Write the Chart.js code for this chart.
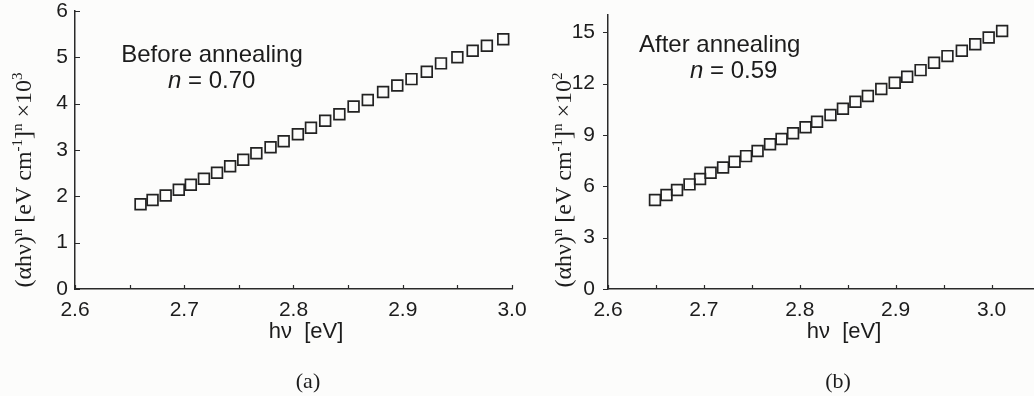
<!DOCTYPE html>
<html><head><meta charset="utf-8">
<script src="https://cdn.jsdelivr.net/npm/chart.js@4.4.0/dist/chart.umd.min.js"></script>
<style>
html,body{margin:0;padding:0;background:#fcfcfb;overflow:hidden;width:1034px;height:396px;position:relative;}
canvas{position:absolute;top:0;}
#ca{left:0}
#cb{left:540px}
</style></head><body>
<canvas id="ca" width="540" height="396"></canvas>
<canvas id="cb" width="540" height="396"></canvas>
<script>
// ---- data ----
const hvA = [2.660,2.671,2.683,2.695,2.706,2.718,2.730,2.742,2.754,2.766,2.779,2.791,2.804,2.816,2.829,2.842,2.855,2.868,2.882,2.895,2.908,2.922,2.935,2.950,2.964,2.977,2.992];
const valA = [1.83,1.92,2.02,2.14,2.25,2.38,2.51,2.65,2.79,2.93,3.06,3.19,3.34,3.48,3.63,3.77,3.94,4.08,4.25,4.39,4.53,4.69,4.87,5.00,5.14,5.25,5.39];
const hvB = [2.649,2.661,2.672,2.685,2.696,2.707,2.720,2.732,2.744,2.756,2.769,2.781,2.793,2.806,2.818,2.832,2.845,2.858,2.871,2.885,2.899,2.912,2.926,2.940,2.954,2.969,2.983,2.997,3.011];
const valB = [5.20,5.49,5.78,6.11,6.42,6.79,7.10,7.43,7.76,8.06,8.45,8.76,9.09,9.44,9.77,10.16,10.53,10.93,11.27,11.68,12.04,12.39,12.78,13.21,13.60,13.91,14.29,14.69,15.06];
const xMajorTicks = [2.6,2.7,2.8,2.9,3.0];
const xMinorTicksA = [2.65,2.75,2.85,2.95];
const xMinorTicksB = [2.65,2.75,2.85,2.95,3.05];
const yTicksA = [0,1,2,3,4,5,6];
const yTicksB = [0,3,6,9,12,15];
const labelA = 'Before annealing', nA = '0.70', panelA = '(a)';
const labelB = 'After annealing', nB = '0.59', panelB = '(b)';
const xTitle = 'hν  [eV]';

const SANS = '"Liberation Sans", Arial, sans-serif';
const SERIF = '"Liberation Serif", "Times New Roman", serif';
const INK = '#1c1c1c';

function drawRich(ctx, segs, x, y, align) {
  let w = 0;
  segs.forEach(s => { ctx.font = s.font; w += ctx.measureText(s.t).width; });
  let cx = align === 'center' ? x - w / 2 : x;
  segs.forEach(s => { ctx.font = s.font; ctx.fillText(s.t, cx, y + (s.dy || 0)); cx += ctx.measureText(s.t).width; });
}

const marks = {
  id: 'marks',
  afterDraw(chart, args, o) {
    const ctx = chart.ctx, xs = chart.scales.x, ys = chart.scales.y, a = chart.chartArea;
    ctx.save();
    ctx.strokeStyle = '#2a2a2a'; ctx.lineWidth = 1.2;
    ctx.beginPath();
    o.xMajor.concat(o.xMinor).forEach(v => {
      const p = Math.round(xs.getPixelForValue(v)) + 0.5;
      ctx.moveTo(p, a.bottom); ctx.lineTo(p, a.bottom - o.xLen);
    });
    ys.ticks.forEach(t => {
      const p = Math.round(ys.getPixelForValue(t.value)) + 0.5;
      ctx.moveTo(a.left, p); ctx.lineTo(a.left + o.yDir * o.yLen, p);
    });
    ctx.stroke();
    ctx.fillStyle = INK; ctx.textBaseline = 'alphabetic'; ctx.textAlign = 'left';
    o.texts.forEach(item => {
      ctx.save(); ctx.translate(item.x, item.y); if (item.rot) ctx.rotate(item.rot);
      drawRich(ctx, item.segs, 0, 0, item.align);
      ctx.restore();
    });
    ctx.restore();
  }
};

function yTitleSegs(exp) {
  const f = '24px ' + SERIF, s = '15px ' + SERIF;
  return [
    {t: '(αhν)', font: f}, {t: 'n', font: s, dy: -9},
    {t: ' [eV cm', font: f}, {t: '-1', font: s, dy: -9},
    {t: ']', font: f}, {t: 'n', font: s, dy: -9},
    {t: ' ×10', font: f}, {t: exp, font: s, dy: -9}
  ];
}

function makeChart(id, xs, ys, cfg) {
  return new Chart(document.getElementById(id), {
    type: 'scatter',
    data: { datasets: [{
      data: xs.map((x, i) => ({x: x, y: ys[i]})),
      pointStyle: 'rect', pointRadius: 7.6, pointBorderWidth: 1.7,
      borderColor: '#222', backgroundColor: 'rgba(255,255,255,0)', showLine: false
    }]},
    options: {
      responsive: false, animation: false, devicePixelRatio: 1,
      layout: { padding: cfg.padding },
      plugins: { legend: {display: false}, tooltip: {enabled: false}, title: {display: false},
        marks: cfg.marks },
      scales: {
        x: {
          type: 'linear', position: 'bottom', min: 2.6, max: cfg.xMax,
          afterBuildTicks: s => { s.ticks = xMajorTicks.map(v => ({value: v})); },
          afterFit: s => { s.height = 396 - 289 - cfg.padding.bottom; s.paddingLeft = 0; s.paddingRight = 0; },
          ticks: { font: {family: SANS, size: 21}, color: INK, padding: 9, maxRotation: 0,
            callback: v => Number(v).toFixed(1) },
          grid: { drawOnChartArea: false, drawTicks: false },
          border: { display: true, color: '#2a2a2a', width: 1.5 }
        },
        y: {
          min: 0, max: cfg.yMax,
          afterBuildTicks: s => { s.ticks = cfg.yTicks.map(v => ({value: v})); },
          afterFit: s => { s.width = cfg.yWidth; s.paddingTop = 0; s.paddingBottom = 0; },
          ticks: { font: {family: SANS, size: 21}, color: INK, padding: cfg.yPad },
          grid: { drawOnChartArea: false, drawTicks: false },
          border: { display: true, color: '#2a2a2a', width: 1.5 }
        }
      }
    },
    plugins: [marks]
  });
}

makeChart('ca', hvA, valA, {
  padding: {top: 11, right: 28, left: 0, bottom: 0},
  xMax: 3.0, yMax: 6, yTicks: yTicksA, yWidth: 75, yPad: 7,
  marks: {
    xMajor: xMajorTicks, xMinor: xMinorTicksA, xLen: 4, yDir: 1, yLen: 5,
    texts: [
      {x: 31, y: 180, rot: -Math.PI / 2, align: 'center', segs: yTitleSegs('3')},
      {x: 212, y: 62, align: 'center', segs: [{t: labelA, font: '24px ' + SANS}]},
      {x: 168, y: 88, align: 'left', segs: [{t: 'n', font: 'italic 24px ' + SANS}, {t: ' = ' + nA, font: '24px ' + SANS}]},
      {x: 306, y: 338, align: 'center', segs: [{t: xTitle, font: '22px ' + SANS}]},
      {x: 308, y: 388, align: 'center', segs: [{t: panelA, font: '22px ' + SERIF}]}
    ]
  }
});

makeChart('cb', hvB, valB, {
  padding: {top: 15, right: 40.5, left: 0, bottom: 0},
  xMax: 3.05, yMax: 16, yTicks: yTicksB, yWidth: 68, yPad: 13,
  marks: {
    xMajor: xMajorTicks, xMinor: xMinorTicksB, xLen: 4, yDir: -1, yLen: 5,
    texts: [
      {x: 31, y: 180, rot: -Math.PI / 2, align: 'center', segs: yTitleSegs('2')},
      {x: 99, y: 52, align: 'left', segs: [{t: labelB, font: '24px ' + SANS}]},
      {x: 150, y: 78, align: 'left', segs: [{t: 'n', font: 'italic 24px ' + SANS}, {t: ' = ' + nB, font: '24px ' + SANS}]},
      {x: 304, y: 338, align: 'center', segs: [{t: xTitle, font: '22px ' + SANS}]},
      {x: 298, y: 388, align: 'center', segs: [{t: panelB, font: '22px ' + SERIF}]}
    ]
  }
});
</script>
</body></html>
